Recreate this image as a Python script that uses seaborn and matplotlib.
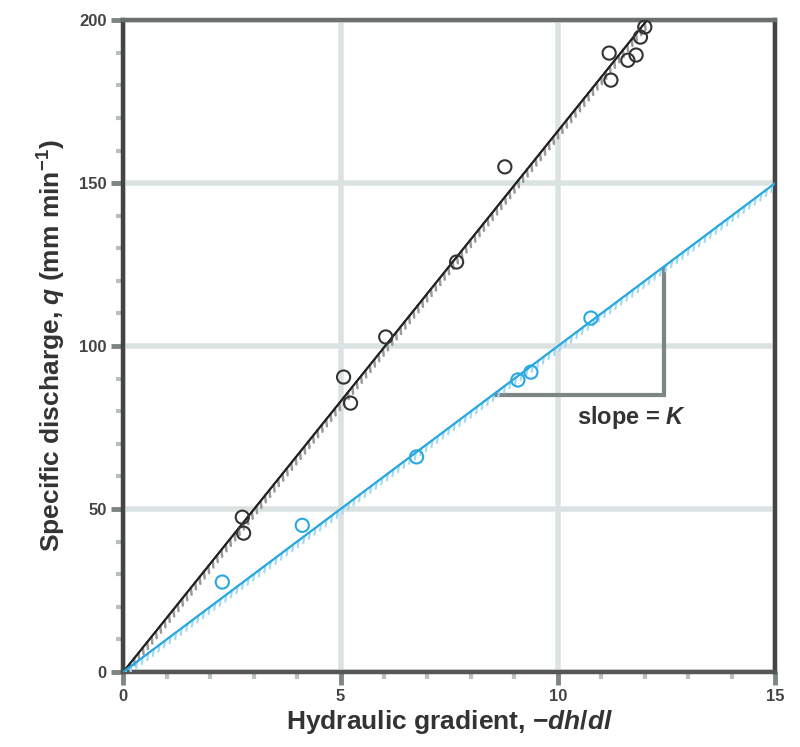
import matplotlib
matplotlib.use("Agg")
import matplotlib.pyplot as plt
import matplotlib.patheffects as pe
from matplotlib.ticker import MultipleLocator
import pandas as pd
import seaborn as sns

black_x = [2.74, 2.77, 5.07, 5.23, 6.04, 7.67, 8.78, 11.18, 11.22, 11.61, 11.8, 11.9, 12.0]
black_y = [47.5, 42.6, 90.5, 82.5, 102.8, 125.8, 155.0, 189.9, 181.6, 187.7, 189.3, 194.8, 197.9]
blue_x = [2.28, 4.12, 6.75, 9.08, 9.38, 10.76]
blue_y = [27.6, 45.0, 66.0, 89.6, 92.0, 108.6]

# fitted lines
black_fit_x = [0, 12.05]
black_fit_y = [0, 200]
blue_fit_x = [0, 15]
blue_fit_y = [0, 150]

# slope triangle corners
tri_x = [8.55, 12.45, 12.45]
tri_y = [85, 85, 124]

BLUE = "#29a9e0"
GRID = "#dce2e2"

sns.set_theme(style="white")
plt.rcParams["font.family"] = ["Liberation Sans", "DejaVu Sans"]
plt.rcParams["mathtext.fontset"] = "custom"
plt.rcParams["mathtext.it"] = "Liberation Sans:italic:bold"
plt.rcParams["mathtext.rm"] = "Liberation Sans:bold"

fig = plt.figure(figsize=(8, 7.47), dpi=100)
ax = fig.add_axes([0.154, 0.1004, 0.815, 0.8726])

ax.grid(True, which="major", color=GRID, linewidth=4, zorder=0)
ax.set_axisbelow(True)

ax.plot(tri_x, tri_y, color="#7d8585", linewidth=3, solid_joinstyle="miter", zorder=2)

blk = pd.DataFrame({"x": black_fit_x, "y": black_fit_y})
sns.lineplot(data=blk, x="x", y="y", color="#222222", linewidth=1.4, ax=ax, zorder=3,
             path_effects=[pe.withTickedStroke(angle=-135, spacing=5, length=1.0,
                                               linewidth=1.8, foreground="#9a9a9a"),
                           pe.Normal()])
blu = pd.DataFrame({"x": blue_fit_x, "y": blue_fit_y})
sns.lineplot(data=blu, x="x", y="y", color=BLUE, linewidth=1.4, ax=ax, zorder=3,
             path_effects=[pe.withTickedStroke(angle=-135, spacing=5, length=1.0,
                                               linewidth=1.5, foreground="#9fd9f3"),
                           pe.Normal()])

sns.scatterplot(x=black_x, y=black_y, s=90, facecolor="none", edgecolor="#333333",
                linewidth=1.5, ax=ax, zorder=4)
sns.scatterplot(x=blue_x, y=blue_y, s=90, facecolor="none", edgecolor=BLUE,
                linewidth=1.5, ax=ax, zorder=4)

ax.text(11.7, 78, "slope = $K$", fontsize=17, ha="center", va="center",
        color="#333333", fontweight="bold")

ax.set_xlim(0, 15)
ax.set_ylim(0, 200)
ax.xaxis.set_major_locator(MultipleLocator(5))
ax.xaxis.set_minor_locator(MultipleLocator(1))
ax.yaxis.set_major_locator(MultipleLocator(50))
ax.yaxis.set_minor_locator(MultipleLocator(10))
ax.tick_params(which="both", bottom=True, left=True, top=False, right=False)
ax.tick_params(which="major", direction="out", length=9, width=3.5, color="#7d8585",
               labelsize=12, labelcolor="#444444", pad=3)
ax.tick_params(which="minor", direction="out", length=5, width=3, color="#b9c0c0")
for lab in ax.get_xticklabels() + ax.get_yticklabels():
    lab.set_fontweight("bold")

for side, col in [("left", "#444444"), ("bottom", "#555555"), ("top", "#6b6f6f"),
                  ("right", "#444444")]:
    ax.spines[side].set_visible(True)
    ax.spines[side].set_color(col)
    ax.spines[side].set_linewidth(3.2)

ax.set_xlabel("Hydraulic gradient, $-dh/dl$", fontsize=19, color="#333333",
              fontweight="bold", labelpad=3)
ax.set_ylabel("Specific discharge, $q$ (mm min$^{-1}$)", fontsize=19, color="#333333",
              fontweight="bold", labelpad=8)

fig.savefig("out.png", dpi=100)
